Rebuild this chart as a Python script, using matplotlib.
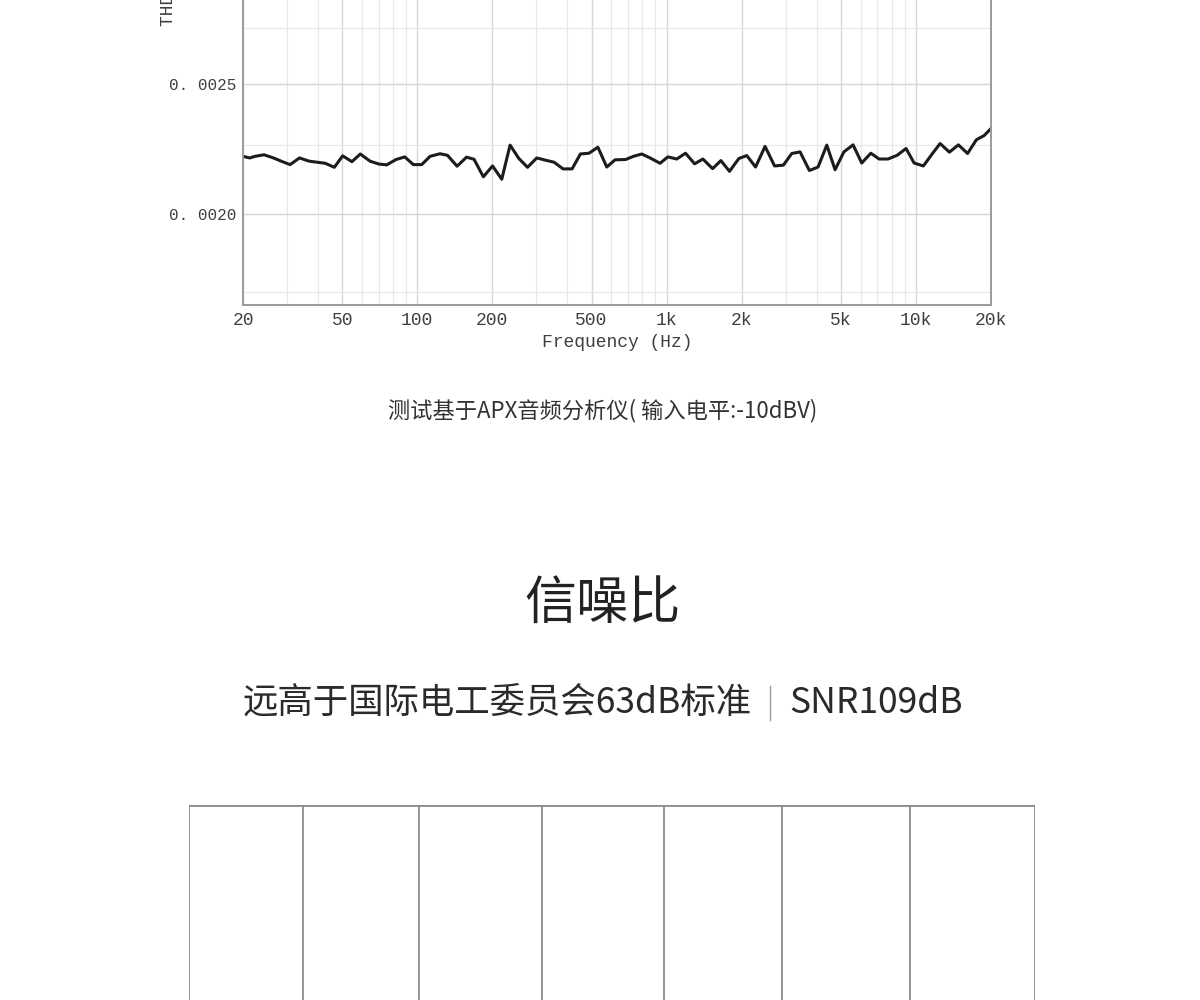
import numpy as np
import matplotlib
matplotlib.use("Agg")
import matplotlib.pyplot as plt
from matplotlib.ticker import FixedLocator, FixedFormatter, NullFormatter

# ---------------- data ----------------
freq_hz = [20, 21.3, 22.3, 24.3, 26.5, 28.6, 30.9, 33.7, 36.8, 39.6,
           42.7, 46.5, 50.2, 54.7, 59.1, 64.6, 70.2, 75.4, 82.2, 89.1,
           96.4, 104.2, 112.5, 123.4, 132.2, 144.4, 157.6, 168.9, 184.1, 200.4,
           218.2, 235.6, 255.5, 276.8, 301.5, 325.4, 353.7, 384.3, 417.7, 451.0,
           488.7, 530.1, 575.4, 621.3, 684.5, 735.7, 795.1, 858.5, 941.4, 1012,
           1098, 1191, 1295, 1398, 1529, 1651, 1788, 1949, 2097, 2274,
           2482, 2710, 2940, 3177, 3430, 3738, 4050, 4389, 4739, 5140,
           5595, 6062, 6594, 7114, 7731, 8401, 9130, 9829, 10710, 11610,
           12500, 13620, 14800, 16110, 17480, 18760, 20000]
thdn_ratio = [0.002207, 0.002201, 0.002207, 0.002213, 0.002201, 0.002188, 0.002176, 0.002201, 0.002189, 0.002185,
              0.002181, 0.002166, 0.002209, 0.002187, 0.002216, 0.002189, 0.002178, 0.002175, 0.002195, 0.002205,
              0.002176, 0.002176, 0.002207, 0.002217, 0.002211, 0.002170, 0.002204, 0.002196, 0.002131, 0.002171,
              0.002122, 0.002250, 0.002199, 0.002166, 0.002201, 0.002193, 0.002185, 0.002160, 0.002160, 0.002216,
              0.002219, 0.002242, 0.002167, 0.002194, 0.002195, 0.002207, 0.002216, 0.002201, 0.002181, 0.002205,
              0.002197, 0.002219, 0.002179, 0.002197, 0.002161, 0.002191, 0.002151, 0.002199, 0.002210, 0.002167,
              0.002245, 0.002171, 0.002174, 0.002218, 0.002224, 0.002154, 0.002167, 0.002250, 0.002157, 0.002224,
              0.002251, 0.002182, 0.002219, 0.002197, 0.002197, 0.002211, 0.002237, 0.002182, 0.002171, 0.002216,
              0.002256, 0.002223, 0.002251, 0.002218, 0.002271, 0.002287, 0.002315]

x_ticks = [20, 50, 100, 200, 500, 1000, 2000, 5000, 10000, 20000]
x_tick_labels = ["20", "50", "100", "200", "500", "1k", "2k", "5k", "10k", "20k"]
x_minor = [30, 40, 60, 70, 80, 90, 300, 400, 600, 700, 800, 900,
           3000, 4000, 6000, 7000, 8000, 9000]
y_ticks = [0.0020, 0.0025]
y_tick_labels = ["0. 0020", "0. 0025"]
y_minor = [0.00175, 0.00225, 0.00275]

x_label = "Frequency (Hz)"
y_label = "THD+N Ratio"
caption = "测试基于APX音频分析仪( 输入电平:-10dBV)"
title = "信噪比"
subtitle_left = "远高于国际电工委员会63dB标准"
subtitle_right = "SNR109dB"
table_col_widths = [114, 116, 123, 122, 118, 128, 125]

# ---------------- figure ----------------
W, H = 1200, 1000
fig = plt.figure(figsize=(12, 10), dpi=100)
fig.patch.set_facecolor("white")

mono = ["Liberation Mono", "DejaVu Sans Mono"]
cjk = ["Noto Sans CJK SC", "DejaVu Sans"]
spine_c = "#9a9a9a"
tick_c = "#3f3f3f"

# chart axes extends above the top of the picture (cropped)
ax_left, ax_bottom, ax_right = 243, 305, 991
ylo, yhi = 0.00171, 0.0030
px_per_decade = 1341.4
ax_h = np.log10(yhi / ylo) * px_per_decade
ax = fig.add_axes([ax_left / W, 1 - ax_bottom / H, (ax_right - ax_left) / W, ax_h / H])
ax.set_xscale("log")
ax.set_yscale("log")
ax.set_xlim(20, 20000)
ax.set_ylim(ylo, yhi)

ax.xaxis.set_major_locator(FixedLocator(x_ticks))
ax.xaxis.set_major_formatter(FixedFormatter(x_tick_labels))
ax.xaxis.set_minor_locator(FixedLocator(x_minor))
ax.xaxis.set_minor_formatter(NullFormatter())
ax.yaxis.set_major_locator(FixedLocator(y_ticks))
ax.yaxis.set_major_formatter(FixedFormatter(y_tick_labels))
ax.yaxis.set_minor_locator(FixedLocator(y_minor))
ax.yaxis.set_minor_formatter(NullFormatter())

ax.grid(True, which="major", color="#d6d6d6", lw=1.0)
ax.grid(True, which="minor", color="#e8e8e8", lw=0.9)
ax.tick_params(which="both", length=0)
ax.tick_params(axis="x", pad=5, labelsize=13, labelcolor=tick_c)
ax.tick_params(axis="y", pad=5, labelsize=11.5, labelcolor=tick_c)
for lab in ax.get_xticklabels() + ax.get_yticklabels():
    lab.set_family(mono)
for s in ["left", "bottom", "right"]:
    ax.spines[s].set_color(spine_c)
    ax.spines[s].set_linewidth(1.4)
ax.spines["top"].set_visible(False)
ax.set_axisbelow(True)

ax.plot(freq_hz, thdn_ratio, color="#1c1c1c", lw=2.2, solid_joinstyle="round")

ax.set_xlabel(x_label, family=mono, fontsize=13, color=tick_c, labelpad=4)
fig.text(168 / W, 1 - 26 / H, y_label, rotation=90, ha="center", va="bottom",
         family=mono, fontsize=13, color=tick_c)

# texts
fig.text(603 / W, 1 - 411 / H, caption, ha="center", va="center",
         family=cjk, fontsize=16, color="#333333")
fig.text(603 / W, 1 - 604 / H, title, ha="center", va="center",
         family=cjk, fontsize=37.5, color="#222222")
fig.text(752 / W, 1 - 703 / H, subtitle_left, ha="right", va="center",
         family=cjk, fontsize=25.5, color="#2a2a2a")
fig.text(789 / W, 1 - 703 / H, subtitle_right, ha="left", va="center",
         family=cjk, fontsize=25.5, color="#2a2a2a")
fig.add_artist(plt.Line2D([770 / W, 770 / W], [1 - 686 / H, 1 - 720 / H],
                          color="#9a9a9a", lw=1.0))

# table frame at bottom (cropped)
t_left, t_right, t_top = 189, 1035, 805
tax = fig.add_axes([t_left / W, 0, (t_right - t_left) / W, (H - t_top) / H])
edges = np.concatenate([[0], np.cumsum(table_col_widths)])
tax.set_xlim(0, edges[-1])
tax.set_ylim(0, 1)
tax.axis("off")
tax.vlines(edges, 0, 1, color="#8c8c8c", lw=1.3)
tax.hlines(1, 0, edges[-1], color="#8c8c8c", lw=2.0)

fig.savefig("out.png", dpi=100, facecolor="white")
